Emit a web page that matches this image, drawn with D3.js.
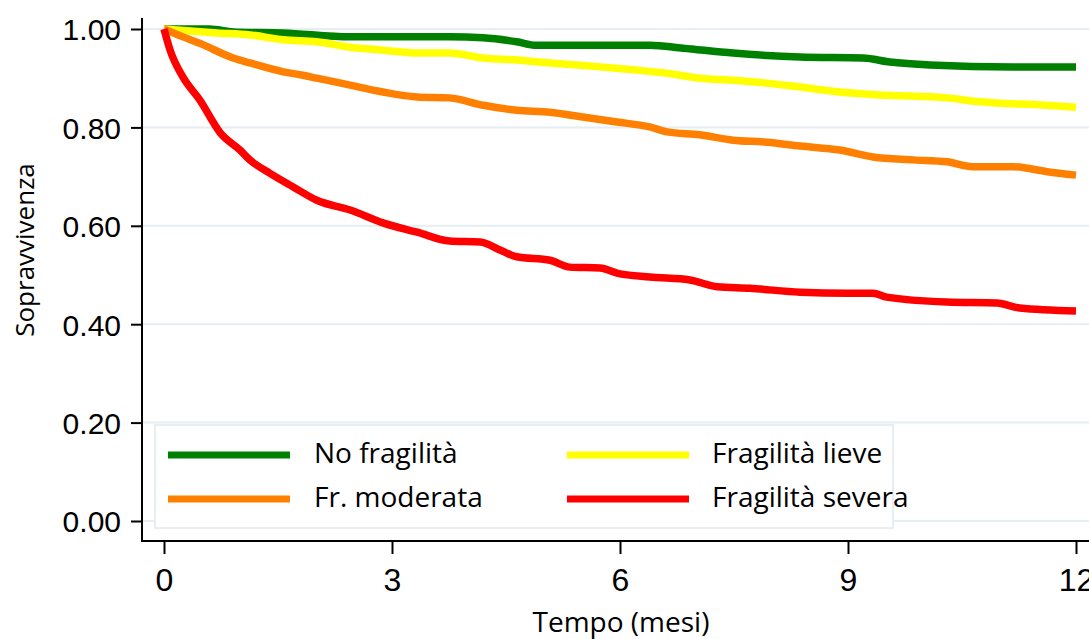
<!DOCTYPE html>
<html>
<head>
<meta charset="utf-8">
<script src="https://cdn.jsdelivr.net/npm/d3@7"></script>
<style>
  body { margin: 0; background: #fff; }
  .tick text { font-family: "Liberation Sans", Arial, sans-serif; fill: #000; }
  .lab { font-family: "Open Sans", sans-serif; fill: #000; }
</style>
</head>
<body>
<div id="chart"></div>
<script>
// tick values
var xTicks = [0, 3, 6, 9, 12];
var yTicks = [0, 0.2, 0.4, 0.6, 0.8, 1.0];

// survival curves: [month, survival]
var noFrag = [[0,1],[0.6,1],[0.91,0.994],[1.57,0.992],[2.45,0.984],[3.76,0.984],[4.2,0.982],[4.64,0.974],[4.9,0.967],
  [6.39,0.967],[6.83,0.961],[7.49,0.951],[8.37,0.943],[9.2,0.941],[9.55,0.933],[10.08,0.927],[11.17,0.923],[12,0.923]];
var lieve = [[0,1],[0.7,0.992],[1.13,0.988],[1.57,0.978],[2.01,0.974],[2.45,0.963],[2.88,0.957],[3.33,0.951],[3.76,0.951],
  [4.2,0.941],[4.64,0.937],[5.08,0.931],[5.74,0.923],[6.17,0.917],[6.62,0.91],[7.05,0.9],[7.49,0.896],[7.93,0.89],
  [8.37,0.882],[8.89,0.872],[9.42,0.866],[10.3,0.86],[10.74,0.852],[11.62,0.845],[12,0.841]];
var moderata = [[0,1],[0.25,0.984],[0.47,0.971],[0.91,0.941],[1.13,0.931],[1.57,0.913],[1.83,0.906],[2.01,0.9],[2.45,0.886],
  [2.88,0.872],[3.33,0.862],[3.76,0.86],[4.2,0.845],[4.64,0.835],[5.08,0.831],[5.51,0.821],[5.96,0.811],[6.39,0.801],
  [6.62,0.791],[7.05,0.785],[7.49,0.774],[7.93,0.77],[8.37,0.762],[8.89,0.754],[9.33,0.74],[9.86,0.734],[10.3,0.73],
  [10.64,0.72],[11.17,0.72],[11.62,0.71],[12,0.703]];
var severa = [[0,1],[0.08,0.957],[0.25,0.902],[0.47,0.856],[0.74,0.789],[1.0,0.754],[1.13,0.734],[1.39,0.707],[1.7,0.679],
  [2.01,0.652],[2.45,0.632],[2.88,0.606],[3.33,0.587],[3.76,0.569],[4.16,0.567],[4.42,0.551],[4.64,0.537],[5.08,0.53],
  [5.34,0.516],[5.74,0.514],[5.96,0.504],[6.39,0.496],[6.92,0.49],[7.28,0.476],[7.71,0.473],[8.37,0.465],[8.99,0.463],
  [9.33,0.463],[9.51,0.455],[10.3,0.445],[10.96,0.443],[11.26,0.433],[12,0.427]];

var seriesNames = ["No fragilità", "Fragilità lieve", "Fr. moderata", "Fragilità severa"];
var seriesColors = ["#008000", "#ffff00", "#ff8000", "#ff0000"];
var seriesData = [noFrag, lieve, moderata, severa];

var W = 1089, H = 639;
var svg = d3.select("#chart").append("svg")
  .attr("width", W)
  .attr("height", H);

var x = d3.scaleLinear().domain([0, 12]).range([164, 1076]);
var y = d3.scaleLinear().domain([0, 1]).range([521, 29]);

// gridlines
svg.append("g").selectAll("line")
  .data(yTicks)
  .enter().append("line")
  .attr("x1", 143).attr("x2", W)
  .attr("y1", function(d){ return y(d); })
  .attr("y2", function(d){ return y(d); })
  .attr("stroke", "#e6eef1")
  .attr("stroke-width", 2);

// y axis
var yAxis = d3.axisLeft(y).tickValues(yTicks).tickFormat(d3.format(".2f"))
  .tickSize(11).tickPadding(10);
var gy = svg.append("g").attr("transform", "translate(142,0)").call(yAxis);
gy.select(".domain").remove();
gy.selectAll(".tick line").attr("stroke", "#000").attr("stroke-width", 2);
gy.selectAll(".tick text").style("font-size", "30px").attr("dy", "0.36em");

// x axis
var xAxis = d3.axisBottom(x).tickValues(xTicks).tickSize(13).tickPadding(14);
var gx = svg.append("g").attr("transform", "translate(0,541)").call(xAxis);
gx.select(".domain").remove();
gx.selectAll(".tick line").attr("stroke", "#000").attr("stroke-width", 2);
gx.selectAll(".tick text").style("font-size", "32px");

// axis lines
svg.append("line").attr("x1", 142).attr("x2", 142).attr("y1", 18).attr("y2", 542)
  .attr("stroke", "#000").attr("stroke-width", 2);
svg.append("line").attr("x1", 141).attr("x2", W).attr("y1", 541).attr("y2", 541)
  .attr("stroke", "#000").attr("stroke-width", 2);

// curves
var line = d3.line()
  .x(function(d){ return x(d[0]); })
  .y(function(d){ return y(d[1]); })
  .curve(d3.curveMonotoneX);

svg.append("g").selectAll("path")
  .data(seriesData)
  .enter().append("path")
  .attr("d", line)
  .attr("fill", "none")
  .attr("stroke", function(d, i){ return seriesColors[i]; })
  .attr("stroke-width", 7.5)
  .attr("stroke-linejoin", "round")
  .attr("stroke-linecap", "butt");

// legend
svg.append("rect")
  .attr("x", 155).attr("y", 425).attr("width", 738).attr("height", 103)
  .attr("fill", "#fff").attr("stroke", "#e6eef1").attr("stroke-width", 2);

var legPos = [[168, 455], [567, 455], [168, 499], [567, 499]];
var leg = svg.append("g").selectAll("g")
  .data(seriesNames)
  .enter().append("g")
  .attr("transform", function(d, i){ return "translate(" + legPos[i][0] + "," + legPos[i][1] + ")"; });
leg.append("line")
  .attr("x1", 0).attr("x2", 122)
  .attr("stroke", function(d, i){ return seriesColors[i]; })
  .attr("stroke-width", 7);
leg.append("text")
  .attr("class", "lab")
  .attr("x", function(d, i){ return i % 2 === 0 ? 146 : 145; })
  .attr("y", 8)
  .style("font-size", "28px")
  .text(function(d){ return d; });

// axis titles
svg.append("text")
  .attr("class", "lab")
  .attr("x", 621).attr("y", 632)
  .attr("text-anchor", "middle")
  .style("font-size", "28px")
  .text("Tempo (mesi)");
svg.append("text")
  .attr("class", "lab")
  .attr("transform", "translate(34,250) rotate(-90)")
  .attr("text-anchor", "middle")
  .style("font-size", "26px")
  .text("Sopravvivenza");
</script>
</body>
</html>
